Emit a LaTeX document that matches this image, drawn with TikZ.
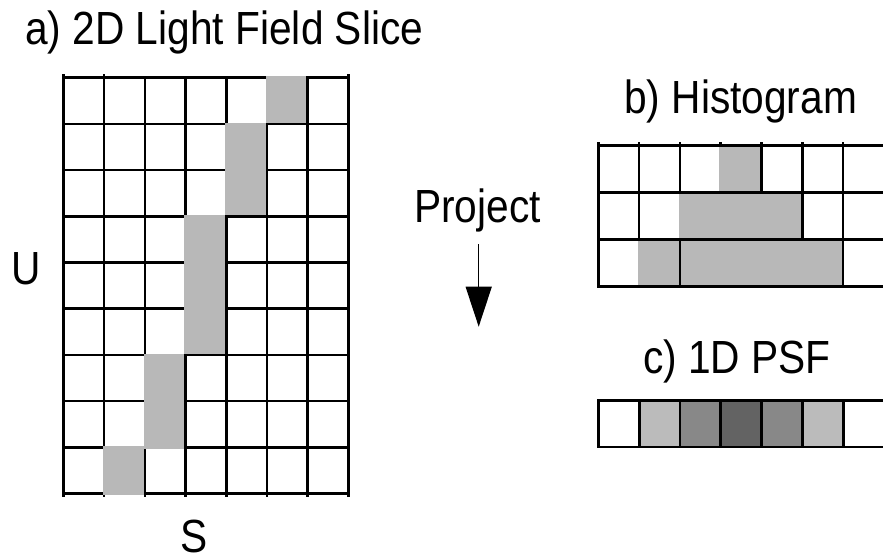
\documentclass[tikz,border=0pt]{standalone}
\usepackage{graphicx}
\usepackage{fontspec}
\setmainfont{Liberation Sans}
\usetikzlibrary{arrows.meta}
\definecolor{cellgray}{HTML}{B8B8B8}
\definecolor{psflight}{HTML}{BBBBBB}
\definecolor{psfmid}{HTML}{888888}
\definecolor{psfdark}{HTML}{636363}
\newcommand{\sqz}[1]{\scalebox{0.875}[1]{#1}}
\tikzset{
  vline/.style={line width=2.5pt},
  hline/.style={line width=2.5pt, line cap=rect},
  psfline/.style={line width=2.7pt, line cap=rect},
  lab/.style={inner sep=0pt, anchor=base west, font=\fontsize{46.5}{50}\selectfont},
  clab/.style={inner sep=0pt, anchor=base, font=\fontsize{46.5}{50}\selectfont},
  projarrow/.style={line width=1.3pt, -{Triangle[length=40pt,width=26pt]}},
}
\begin{document}
\begin{tikzpicture}[x=1pt,y=-1pt]
\useasboundingbox (0,0) rectangle (883,558);
\fill[white] (0,0) rectangle (883,558);

% ---------- a) light field grid ----------
\foreach \i in {0,...,7} {
  \pgfmathsetmacro{\xx}{63.5+40.7*\i}
  \draw[vline] (\xx,77.7) -- (\xx,497);
}
\foreach \i in {0,1,7} {
  \pgfmathsetmacro{\xx}{63.5+40.7*\i}
  \draw[vline] (\xx,74) -- (\xx,78);
}
\foreach \j in {0,...,9} {
  \pgfmathsetmacro{\yy}{77.7+46.2*\j}
  \draw[hline] (63.5,\yy) -- (348.4,\yy);
}
\fill[cellgray] (265.75,76.45) rectangle (306.45,122.65);
\fill[cellgray] (225.05,122.65) rectangle (265.75,215.05);
\fill[cellgray] (184.35,215.05) rectangle (225.05,353.65);
\fill[cellgray] (143.65,353.65) rectangle (184.35,448.55);
\fill[cellgray] (102.95,446.05) rectangle (143.65,494.75);

% ---------- b) histogram ----------
\foreach \i in {0,...,7} {
  \pgfmathsetmacro{\xx}{598.3+40.8*\i}
  \draw[vline] (\xx,142) -- (\xx,286.5);
}
\foreach \j in {0,...,3} {
  \pgfmathsetmacro{\yy}{145.5+47*\j}
  \draw[hline] (598.3,\yy) -- (890,\yy);
}
\fill[cellgray] (719.45,146.75) rectangle (760.25,191.25);
\fill[cellgray] (678.65,193.75) rectangle (801.05,238.25);
\fill[cellgray] (637.85,240.75) rectangle (678.65,285.25);
\fill[cellgray] (681.15,240.75) rectangle (841.85,285.25);

% ---------- c) 1D PSF ----------
\fill[psflight] (639.7,400.7) rectangle (680,447);
\fill[psfmid]   (680,400.7) rectangle (720.5,447);
\fill[psfdark]  (720.5,400.7) rectangle (761.3,447);
\fill[psfmid]   (761.3,400.7) rectangle (802.3,447);
\fill[psflight] (802.3,400.7) rectangle (843.7,447);
\draw[psfline] (598.7,400.7) -- (890,400.7);
\draw[psfline] (598.7,447) -- (890,447);
\foreach \xx in {598.7,639.7,680,720.5,761.3,802.3,843.7,884.5}
  \draw[psfline] (\xx,400.7) -- (\xx,447);

% ---------- labels ----------
\node[lab] (ta) at (25,44.5) {\sqz{a) 2D Light Field Slice}};
\node[lab] (tb) at (624,113.3) {\sqz{b) Histogram}};
\node[lab] (tc) at (643,373.3) {\sqz{c) 1D PSF}};
\node[lab] (proj) at (414,222.7) {\sqz{Project}};
\node[clab] (u) at (26.3,284.5) {\sqz{U}};
\node[clab] (s) at (194.3,552.8) {\sqz{S}};

% ---------- arrow ----------
\coordinate (arrstart) at (478.7,244);
\coordinate (arrend) at (478.7,326.7);
\draw[projarrow] (arrstart) -- (arrend);
\end{tikzpicture}
\end{document}
